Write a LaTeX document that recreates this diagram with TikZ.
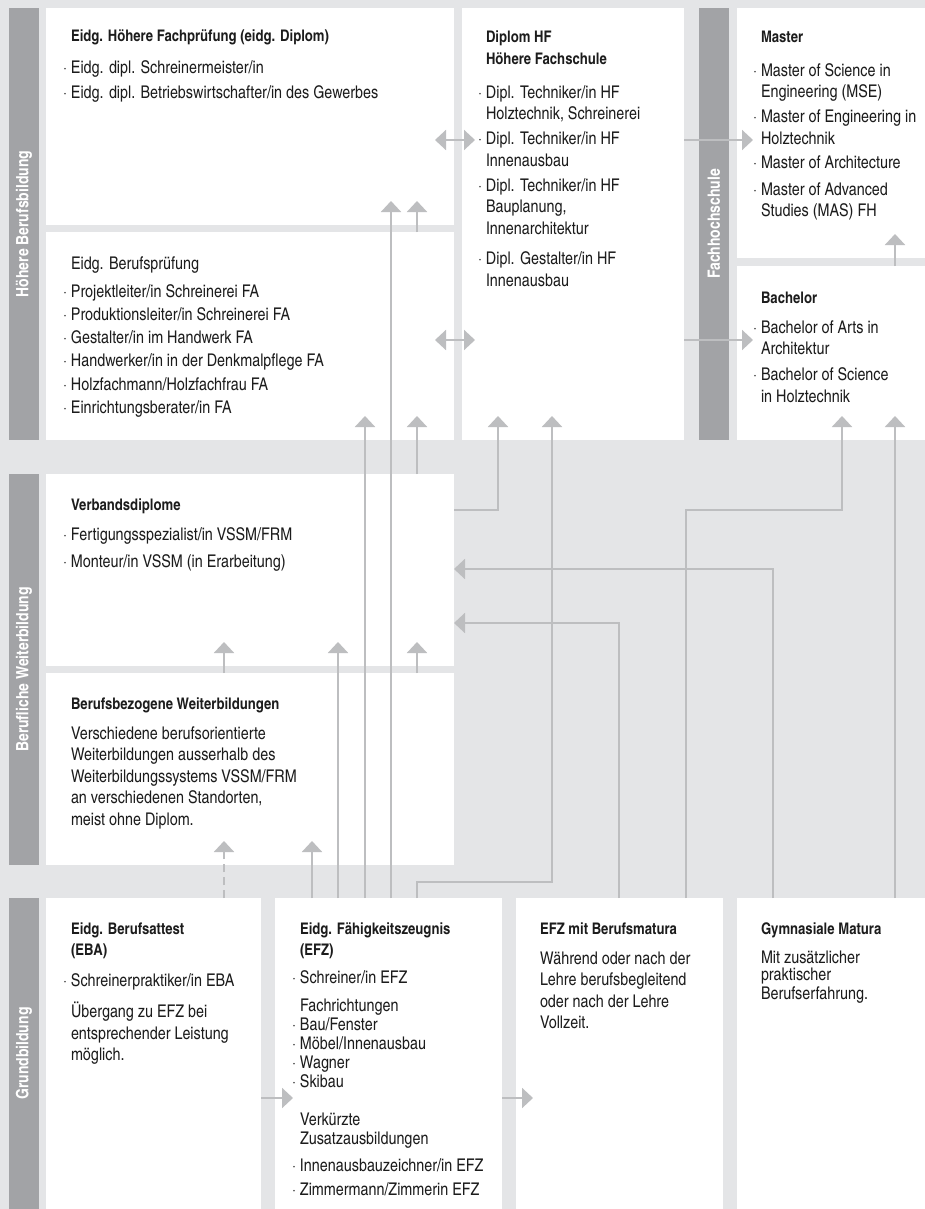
\documentclass[tikz,border=0pt]{standalone}
\usepackage{fontspec}
\setmainfont{texgyreheroscn}[Extension=.otf, UprightFont=*-regular, BoldFont=*-bold]
\usepackage{xcolor}
\definecolor{bggray}{HTML}{E4E5E7}
\definecolor{sidegray}{HTML}{A2A3A6}
\definecolor{linegray}{HTML}{BDBEC0}
\definecolor{txtblack}{HTML}{1C1C1C}
\usepackage{tikz}
\usetikzlibrary{arrows.meta,calc}
\newcommand{\bul}{\llap{\textperiodcentered\hspace{4pt}}}
\newcommand{\fl}{\rule{0pt}{17pt}}
\newcommand{\ttl}[1]{{\fontsize{16}{21.5}\selectfont\bfseries #1}}

\begin{document}
\begin{tikzpicture}[x=1pt,y=-1pt,line width=2pt,>={Triangle[width=20pt,length=11pt]}]
              \tikzstyle{box}=[rectangle,fill=white,inner sep=0pt,outer sep=0pt,anchor=north west]
              \tikzstyle{side}=[rectangle,fill=sidegray,inner sep=0pt,outer sep=0pt,anchor=north west,minimum width=30pt]
              \tikzstyle{sidetxt}=[rotate=90,text=white,inner sep=0pt,font=\fontsize{17}{20}\selectfont\bfseries]
              \tikzstyle{txt}=[anchor=north west,align=left,inner sep=0pt,text=txtblack,font=\fontsize{17.5}{21.5}\selectfont]
              \tikzstyle{e}=[draw=linegray,->]
              \tikzstyle{ee}=[draw=linegray,<->]

              \useasboundingbox (0,0) rectangle (925,1209);
              \fill[bggray] (0,0) rectangle (925,1209);

              % columns and rows of the connectors
              \coordinate (cA) at (224,0);
              \coordinate (cB) at (312,0);
              \coordinate (cC) at (338,0);
              \coordinate (cD) at (365,0);
              \coordinate (cE) at (391,0);
              \coordinate (cF) at (417,0);
              \coordinate (cG) at (498,0);
              \coordinate (cH) at (552,0);
              \coordinate (cI) at (619,0);
              \coordinate (cJ) at (686,0);
              \coordinate (cK) at (773,0);
              \coordinate (cL) at (842,0);
              \coordinate (cM) at (895,0);
              \coordinate (r140) at (0,140);
              \coordinate (r340) at (0,340);
              \coordinate (r510) at (0,510);
              \coordinate (r569) at (0,569);
              \coordinate (r623) at (0,623);
              \coordinate (r882) at (0,882);
              \coordinate (r1098) at (0,1098);

              \node[side, minimum height=432pt] (sbH) at (9,8)   {};
              \node[side, minimum height=391pt] (sbW) at (9,474) {};
              \node[side, minimum height=311pt] (sbG) at (9,898) {};
              \node[side, minimum height=432pt] (sbF) at (699,8) {};
              \node[sidetxt] (sbHT) at (sbH.center) {Höhere Berufsbildung};
              \node[sidetxt] (sbWT) at (sbW.center) {Berufliche Weiterbildung};
              \node[sidetxt] (sbGT) at (sbG.center) {Grundbildung};
              \node[sidetxt] (sbFT) at (sbF.center) {Fachhochschule};

              \node[box, minimum width=408pt, minimum height=217pt] (hfp) at (46,8)    {};
              \node[box, minimum width=408pt, minimum height=208pt] (bp)  at (46,232)  {};
              \node[box, minimum width=222pt, minimum height=432pt] (hf)  at (462,8)   {};
              \node[box, minimum width=188pt, minimum height=250pt] (ma)  at (737,8)   {};
              \node[box, minimum width=188pt, minimum height=174pt] (ba)  at (737,266) {};
              \node[box, minimum width=408pt, minimum height=192pt] (vd)  at (46,474)  {};
              \node[box, minimum width=408pt, minimum height=192pt] (bbw) at (46,673)  {};
              \node[box, minimum width=215pt, minimum height=311pt] (eba) at (46,898)  {};
              \node[box, minimum width=227pt, minimum height=311pt] (efz) at (275,898) {};
              \node[box, minimum width=207pt, minimum height=311pt] (bm)  at (516,898) {};
              \node[box, minimum width=188pt, minimum height=311pt] (gym) at (737,898) {};

              \draw[e] (bp.north -| cF) -- ($(hfp.south -| cF)+(0,-24)$);
              \draw[e] (efz.north -| cE) -- ($(hfp.south -| cE)+(0,-24)$);
              \draw[e] (efz.north -| cD) -- ($(bp.south -| cD)+(0,-24)$);
              \draw[e] (vd.north -| cF) -- ($(bp.south -| cF)+(0,-24)$);
              \draw[e] (efz.north -| cC) -- ($(vd.south -| cC)+(0,-24)$);
              \draw[e] (bbw.north -| cA) -- ($(vd.south -| cA)+(0,-24)$);
              \draw[e] (bbw.north -| cF) -- ($(vd.south -| cF)+(0,-24)$);
              \draw[e,dash pattern=on 8pt off 5pt] (eba.north -| cA) -- ($(bbw.south -| cA)+(0,-24)$);
              \draw[e] (efz.north -| cB) -- ($(bbw.south -| cB)+(0,-24)$);
              \draw[e] (efz.north -| cF) |- (r882 -| cH) -- ($(hf.south -| cH)+(0,-24)$);
              \draw[e] (vd.east |- r510) -| ($(hf.south -| cG)+(0,-24)$);
              \draw[e] (bm.north -| cJ) |- (r510 -| cL) -- ($(ba.south -| cL)+(0,-24)$);
              \draw[e] (gym.north -| cM) -- ($(ba.south -| cM)+(0,-24)$);
              \draw[e] (gym.north -| cK) |- (vd.east |- r569);
              \draw[e] (bm.north -| cI) |- (vd.east |- r623);
              \draw[e] (ba.north -| cM) -- ($(ma.south -| cM)+(0,-24)$);
              \draw[ee] ($(hfp.east |- r140)+(-19,0)$) -- ($(hf.west |- r140)+(13,0)$);
              \draw[ee] ($(bp.east |- r340)+(-19,0)$) -- ($(hf.west |- r340)+(13,0)$);
              \draw[e] (hf.east |- r140) -- ($(ma.west |- r140)+(16,0)$);
              \draw[e] (hf.east |- r340) -- ($(ba.west |- r340)+(16,0)$);
              \draw[e] (eba.east |- r1098) -- ($(efz.west |- r1098)+(18,0)$);
              \draw[e] (efz.east |- r1098) -- ($(bm.west |- r1098)+(17,0)$);

              \node[txt] (hfpT) at ($(hfp.north west)+(24,16)$) {\fl\ttl{Eidg. Höhere Fachprüfung (eidg. Diplom)}\\[10.5pt]
                \bul Eidg. dipl. Schreinermeister/in\\[3.5pt]
                \bul Eidg. dipl. Betriebswirtschafter/in des Gewerbes};
              \node[txt] (bpT) at ($(bp.north west)+(24,19)$) {\fl Eidg. Berufsprüfung\\[6.5pt]
                \bul Projektleiter/in Schreinerei FA\\[1.8pt]
                \bul Produktionsleiter/in Schreinerei FA\\[1.8pt]
                \bul Gestalter/in im Handwerk FA\\[1.8pt]
                \bul Handwerker/in in der Denkmalpflege FA\\[1.8pt]
                \bul Holzfachmann/Holzfachfrau FA\\[1.8pt]
                \bul Einrichtungsberater/in FA};
              \node[txt] (hfT) at ($(hf.north west)+(23,16)$) {\fl\ttl{Diplom HF}\\[0.5pt]
                \ttl{Höhere Fachschule}\\[12.5pt]
                \bul Dipl. Techniker/in HF\\
                Holztechnik, Schreinerei\\[3.5pt]
                \bul Dipl. Techniker/in HF\\
                Innenausbau\\[3.5pt]
                \bul Dipl. Techniker/in HF\\
                Bauplanung,\\
                Innenarchitektur\\[9pt]
                \bul Dipl. Gestalter/in HF\\
                Innenausbau};
              \node[txt] (maT) at ($(ma.north west)+(23,16)$) {\fl\ttl{Master}\\[12.5pt]
                \bul Master of Science in\\
                Engineering (MSE)\\[3.5pt]
                \bul Master of Engineering in\\
                Holztechnik\\[3.5pt]
                \bul Master of Architecture\\[4.5pt]
                \bul Master of Advanced\\
                Studies (MAS) FH};
              \node[txt] (baT) at ($(ba.north west)+(23,19)$) {\fl\ttl{Bachelor}\\[8.5pt]
                \bul Bachelor of Arts in\\
                Architektur\\[4.5pt]
                \bul Bachelor of Science\\
                in Holztechnik};
              \node[txt] (vdT) at ($(vd.north west)+(24,18)$) {\fl\ttl{Verbandsdiplome}\\[8.5pt]
                \bul Fertigungsspezialist/in VSSM/FRM\\[5.5pt]
                \bul Monteur/in VSSM (in Erarbeitung)};
              \node[txt] (bbwT) at ($(bbw.north west)+(24,18)$) {\fl\ttl{Berufsbezogene Weiterbildungen}\\[8.5pt]
                Verschiedene berufsorientierte\\
                Weiterbildungen ausserhalb des\\
                Weiterbildungssystems VSSM/FRM\\
                an verschiedenen Standorten,\\
                meist ohne Diplom.};
              \node[txt] (ebaT) at ($(eba.north west)+(24,18)$) {\fl\ttl{Eidg. Berufsattest}\\
                \ttl{(EBA)}\\[9.5pt]
                \bul Schreinerpraktiker/in EBA\\[9.5pt]
                Übergang zu EFZ bei\\
                entsprechender Leistung\\
                möglich.};
              \node[txt] (efzT) at ($(efz.north west)+(24,18)$) {\fl\ttl{Eidg. Fähigkeitszeugnis}\\
                \ttl{(EFZ)}\\[6.5pt]
                \bul Schreiner/in EFZ\\[6.5pt]
                Fachrichtungen\\[-2.5pt]
                \bul Bau/Fenster\\[-2.5pt]
                \bul Möbel/Innenausbau\\[-2.5pt]
                \bul Wagner\\[-2.5pt]
                \bul Skibau\\[16.5pt]
                Verkürzte\\[-2.5pt]
                Zusatzausbildungen\\[5.5pt]
                \bul Innenausbauzeichner/in EFZ\\[2.5pt]
                \bul Zimmermann/Zimmerin EFZ};
              \node[txt] (bmT) at ($(bm.north west)+(23,18)$) {\fl\ttl{EFZ mit Berufsmatura}\\[8.5pt]
                Während oder nach der\\
                Lehre berufsbegleitend\\
                oder nach der Lehre\\
                Vollzeit.};
              \node[txt] (gymT) at ($(gym.north west)+(23,18)$) {\fl\ttl{Gymnasiale Matura}\\[7.5pt]
                Mit zusätzlicher\\[-4.5pt]
                praktischer\\[-2.5pt]
                Berufserfahrung.};
\end{tikzpicture}
\end{document}
